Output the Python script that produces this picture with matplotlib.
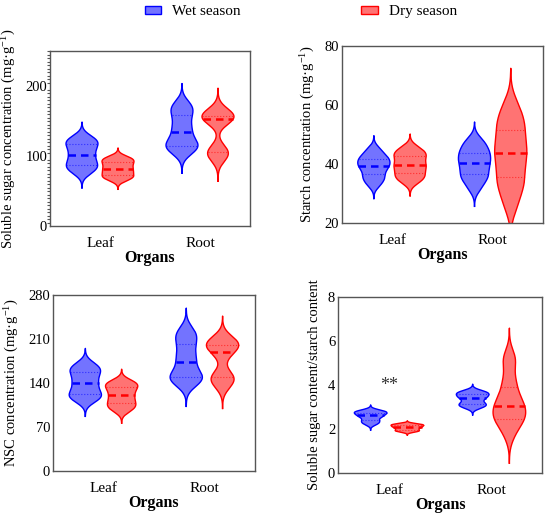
import numpy as np
import matplotlib
matplotlib.use('Agg')
import matplotlib.pyplot as plt
from matplotlib.patches import Patch
from matplotlib.ticker import MultipleLocator

plt.rcParams['font.family'] = 'Liberation Serif'
plt.rcParams['mathtext.fontset'] = 'custom'
plt.rcParams['mathtext.rm'] = 'Liberation Serif'
plt.rcParams['mathtext.it'] = 'Liberation Serif:italic'

organs = ['Leaf', 'Root']
seasons = ['Wet season', 'Dry season']
season_colors = ['#0000ff', '#ff0000']

# soluble sugar (mg/g)
sugar_wet_leaf = [76, 83, 86, 92, 99, 105, 112, 118, 121, 127]
sugar_dry_leaf = [66, 70, 72, 77, 80, 84, 88, 92, 95, 98]
sugar_wet_root = [104, 110, 113, 115, 119, 125, 134, 140, 148, 158, 164, 170, 175]
sugar_dry_root = [95, 100, 103, 105, 107, 112, 148, 153, 154, 155, 156, 157, 158, 161, 166]

# starch (mg/g)
starch_wet_leaf = [33, 35, 36, 38, 39, 40, 41, 42, 43, 45]
starch_dry_leaf = [34, 35.5, 36.5, 38, 39.5, 40, 42, 43, 44, 45.5]
starch_wet_root = [32, 35, 36, 38, 40, 41, 43, 44, 46, 48]
starch_dry_root = [26, 31, 34, 36, 40, 43, 44.5, 47, 51, 53, 56, 60]

# NSC (mg/g)
nsc_wet_leaf = [112, 118, 121, 128, 137, 143, 152, 159, 163, 170]
nsc_dry_leaf = [96, 102, 106, 112, 118, 124, 130, 135, 139, 142]
nsc_wet_root = [138, 144, 147, 149, 153, 162, 174, 180, 190, 202, 210, 218, 224]
nsc_dry_root = [132, 140, 145, 148, 150, 158, 180, 189, 194, 197, 200, 202, 205, 208, 214]

# sugar / starch ratio
ratio_wet_leaf = [2.2, 2.3, 2.38, 2.5, 2.58, 2.62, 2.7, 2.74, 2.78, 2.82]
ratio_dry_leaf = [1.86, 1.9, 1.94, 2.0, 2.05, 2.08, 2.12, 2.16, 2.19, 2.21]
ratio_wet_root = [2.95, 3.05, 3.1, 3.2, 3.35, 3.42, 3.5, 3.58, 3.64, 3.7]
ratio_dry_root = [1.7, 2.2, 2.4, 2.45, 2.7, 2.9, 3.05, 3.2, 3.5, 3.9, 4.3, 5.0, 5.3]


def kde(vals, bw_adjust=0.65, cut=3, n=300):
    v = np.asarray(vals, float)
    bw = v.std(ddof=1) * len(v) ** (-0.2) * bw_adjust
    y = np.linspace(v.min() - cut * bw, v.max() + cut * bw, n)
    d = np.exp(-0.5 * ((y[:, None] - v[None, :]) / bw) ** 2).sum(1)
    return y, d / d.max()


def violin(ax, vals, x, color, half=0.32):
    y, d = kde(vals)
    w = d * half
    ax.fill_betweenx(y, x - w, x + w, facecolor=color, alpha=0.55, lw=0)
    ax.plot(np.r_[x - w, (x + w)[::-1]], np.r_[y, y[::-1]], color=color, lw=1)
    q1, med, q3 = np.percentile(vals, [25, 50, 75])
    for q, ls, lw, a in [(q1, ':', 0.8, 0.6), (q3, ':', 0.8, 0.6), (med, (0, (3, 2)), 1.8, 1)]:
        wq = np.interp(q, y, w)
        ax.plot([x - wq, x + wq], [q, q], color=color, ls=ls, lw=lw, alpha=a)


panels = [
    ([[sugar_wet_leaf, sugar_dry_leaf], [sugar_wet_root, sugar_dry_root]],
     'Soluble sugar concentration (mg·g$^{-1}$)', (0, 250), [0, 100, 200],
     [0.0909, 0.5637, 0.3636, 0.3378]),
    ([[starch_wet_leaf, starch_dry_leaf], [starch_wet_root, starch_dry_root]],
     'Starch concentration (mg·g$^{-1}$)', (20, 80), [20, 40, 60, 80],
     [0.6212, 0.569, 0.366, 0.3423]),
    ([[nsc_wet_leaf, nsc_dry_leaf], [nsc_wet_root, nsc_dry_root]],
     'NSC concentration (mg·g$^{-1}$)', (0, 280), [0, 70, 140, 210, 280],
     [0.0964, 0.0907, 0.367, 0.3398]),
    ([[ratio_wet_leaf, ratio_dry_leaf], [ratio_wet_root, ratio_dry_root]],
     'Soluble sugar content/starch content', (0, 8), [0, 2, 4, 6, 8],
     [0.6145, 0.0875, 0.371, 0.3398]),
]

fig = plt.figure(figsize=(5.5, 5.18), dpi=100)
axes = []
for groups, ylabel, ylim, yticks, pos in panels:
    ax = fig.add_axes(pos)
    for i, pair in enumerate(groups):
        xc = 1 + 2 * i
        for j, vals in enumerate(pair):
            violin(ax, vals, xc + (-0.36 if j == 0 else 0.36), season_colors[j])
    ax.set_xlim(0, 4)
    ax.set_ylim(*ylim)
    ax.set_xticks([1, 3])
    ax.set_xticklabels(organs, fontsize=11)
    ax.set_yticks(yticks)
    ax.tick_params(axis='y', labelsize=10.5, length=0, pad=2)
    ax.tick_params(axis='x', length=0, pad=8)
    ax.set_ylabel(ylabel, fontsize=10.5, labelpad=5)
    ax.set_xlabel('Organs', fontsize=11.5, fontweight='bold', labelpad=0)
    for s in ax.spines.values():
        s.set_color('#555555')
        s.set_linewidth(1)
    axes.append(ax)

axes[0].yaxis.set_minor_locator(MultipleLocator(5))
axes[0].tick_params(axis='y', which='minor', length=2, width=0.8, color='#555555')
axes[3].text(1, 3.98, '**', ha='center', va='center', fontsize=13, color='#333333')

handles = [Patch(facecolor=matplotlib.colors.to_rgba(c, 0.55), edgecolor=c, lw=1) for c in season_colors]
fig.legend(handles, seasons, loc='center', bbox_to_anchor=(0.547, 0.977), ncol=2,
           frameon=False, fontsize=11, handlelength=1.1, handleheight=0.5,
           handletextpad=0.7, columnspacing=7.9)

fig.savefig('out.png', dpi=100)
